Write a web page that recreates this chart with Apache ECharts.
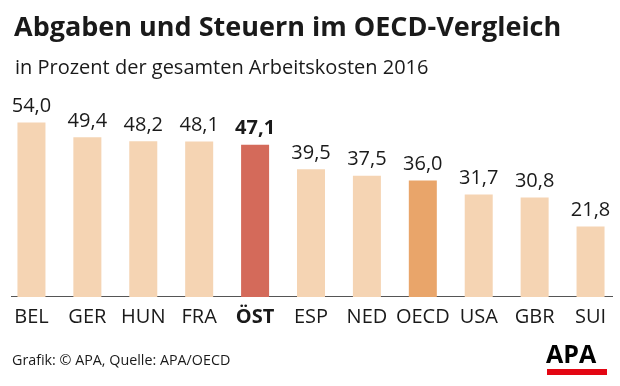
<!DOCTYPE html>
<html>
<head>
<meta charset="utf-8">
<script src="https://cdn.jsdelivr.net/npm/echarts@6/dist/echarts.min.js"></script>
<style>
html,body{margin:0;padding:0;background:#fff;}
#chart{width:620px;height:386px;}
</style>
</head>
<body>
<div id="chart"></div>
<script>
const titleText = 'Abgaben und Steuern im OECD-Vergleich';
const subtitleText = 'in Prozent der gesamten Arbeitskosten 2016';
const sourceText = 'Grafik: © APA, Quelle: APA/OECD';
const categories = ['BEL','GER','HUN','FRA','ÖST','ESP','NED','OECD','USA','GBR','SUI'];
const values = [54.0, 49.4, 48.2, 48.1, 47.1, 39.5, 37.5, 36.0, 31.7, 30.8, 21.8];
const highlightAT = 'ÖST';
const highlightAvg = 'OECD';

const FONT = '"Open Sans", sans-serif';
const C_BASE = '#f5d4b3';
const C_AT = '#d46a5a';
const C_AVG = '#e9a56a';
const C_TEXT = '#1a1a1a';

const chart = echarts.init(document.getElementById('chart'), null, {renderer:'canvas'});

const fmt = v => v.toFixed(1).replace('.', ',');

const data = values.map((v, i) => {
  const c = categories[i];
  const isAT = c === highlightAT;
  return {
    value: v,
    itemStyle: { color: isAT ? C_AT : (c === highlightAvg ? C_AVG : C_BASE) },
    label: { fontWeight: isAT ? 'bold' : 'normal' }
  };
});

chart.setOption({
  animation: false,
  backgroundColor: '#fff',
  title: [
    { text: titleText, left: 9, top: 10,
      textStyle: { fontFamily: FONT, fontWeight: 'bold', fontSize: 27, color: C_TEXT } },
    { text: subtitleText, left: 10, top: 53,
      textStyle: { fontFamily: FONT, fontWeight: 'normal', fontSize: 20, color: C_TEXT } }
  ],
  grid: { left: 3.5, right: 1.5, top: 103, bottom: 89, containLabel: false },
  xAxis: {
    type: 'category',
    data: categories,
    axisLine: { show: false },
    axisTick: { show: false },
    axisLabel: {
      interval: 0,
      margin: 10,
      fontFamily: FONT,
      fontSize: 20,
      color: C_TEXT,
      formatter: v => v === highlightAT ? '{b|' + v + '}' : v,
      rich: { b: { fontFamily: FONT, fontSize: 20, fontWeight: 'bold', color: C_TEXT } }
    }
  },
  yAxis: { type: 'value', min: 0, max: 60, show: false, splitLine: { show: false } },
  series: [{
    type: 'bar',
    data: data,
    barWidth: 28,
    label: {
      show: true,
      position: 'top',
      distance: 6,
      fontFamily: FONT,
      fontSize: 20,
      color: C_TEXT,
      formatter: p => fmt(p.value)
    }
  }],
  graphic: [
    { type: 'line', shape: { x1: 11, y1: 296.5, x2: 613, y2: 296.5 },
      style: { stroke: '#555', lineWidth: 1 } },
    { type: 'text', left: 12, top: 354,
      style: { text: sourceText, fontFamily: FONT, fontSize: 14.3, fill: C_TEXT } },
    { type: 'text', left: 546, top: 343,
      style: { text: 'APA', fontFamily: FONT, fontSize: 25, fontWeight: 'bold', fill: '#000' } },
    { type: 'rect', shape: { x: 547, y: 369, width: 60, height: 6 },
      style: { fill: '#e30613' } }
  ]
});
</script>
</body>
</html>
